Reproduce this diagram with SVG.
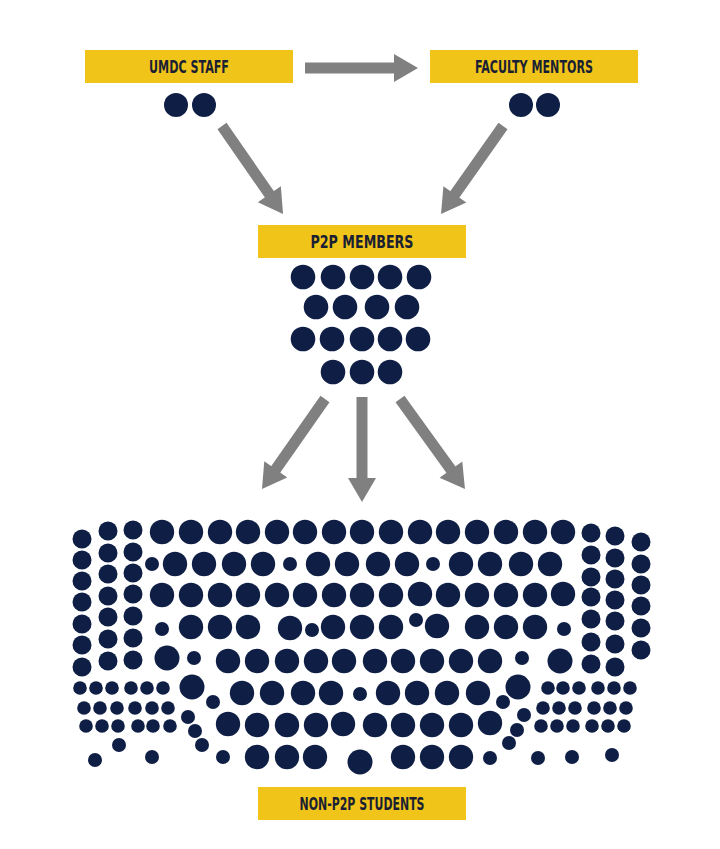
<svg xmlns="http://www.w3.org/2000/svg" width="720" height="849" viewBox="0 0 720 849">
<style>
.box{fill:#f0c419}
.lbl{font-family:"Liberation Sans Narrow","DejaVu Sans Condensed","Liberation Sans",sans-serif;font-weight:700;font-size:17px;fill:#1b1f33;text-anchor:middle}
.d{fill:#0e1e44}
.arr{stroke:#808080;stroke-width:11;fill:none;marker-end:url(#head)}
</style>
<defs>
<marker id="head" markerUnits="userSpaceOnUse" markerWidth="30" markerHeight="30" refX="2" refY="14" orient="auto" overflow="visible">
<path d="M0,0 L24,14 L0,28 z" fill="#808080"/>
</marker>
</defs>
<rect width="720" height="849" fill="#ffffff"/>

<g id="connectors">
<line class="arr" x1="305" y1="68" x2="396" y2="68"/>
<line class="arr" x1="222" y1="126" x2="270.5" y2="195.9"/>
<line class="arr" x1="503" y1="126" x2="453.7" y2="196"/>
<line class="arr" x1="325" y1="399" x2="274.6" y2="471"/>
<line class="arr" x1="362" y1="397" x2="362" y2="480"/>
<line class="arr" x1="400" y1="399" x2="452.1" y2="471.2"/>
</g>

<g id="node-umdc-staff">
<rect class="box" x="85" y="50" width="208" height="33"/>
<text class="lbl" x="189" y="72.5" textLength="80" lengthAdjust="spacingAndGlyphs">UMDC STAFF</text>
<circle class="d" cx="176" cy="105" r="12"/>
<circle class="d" cx="204" cy="105" r="12"/>
</g>

<g id="node-faculty-mentors">
<rect class="box" x="430" y="50" width="208" height="33"/>
<text class="lbl" x="534" y="72.5" textLength="118" lengthAdjust="spacingAndGlyphs">FACULTY MENTORS</text>
<circle class="d" cx="521" cy="105" r="12"/>
<circle class="d" cx="548" cy="105" r="12"/>
</g>

<g id="node-p2p-members">
<rect class="box" x="258" y="225" width="208" height="33"/>
<text class="lbl" x="362" y="247.5" textLength="103" lengthAdjust="spacingAndGlyphs">P2P MEMBERS</text>
<circle class="d" cx="303" cy="277" r="12.3"/>
<circle class="d" cx="333" cy="277" r="12.3"/>
<circle class="d" cx="362" cy="277" r="12.3"/>
<circle class="d" cx="390" cy="277" r="12.3"/>
<circle class="d" cx="419" cy="277" r="12.3"/>
<circle class="d" cx="316" cy="307" r="12.3"/>
<circle class="d" cx="345" cy="307" r="12.3"/>
<circle class="d" cx="377" cy="307" r="12.3"/>
<circle class="d" cx="407" cy="307" r="12.3"/>
<circle class="d" cx="303" cy="339" r="12.3"/>
<circle class="d" cx="332" cy="339" r="12.3"/>
<circle class="d" cx="362" cy="339" r="12.3"/>
<circle class="d" cx="390" cy="339" r="12.3"/>
<circle class="d" cx="418" cy="339" r="12.3"/>
<circle class="d" cx="333" cy="372" r="12.3"/>
<circle class="d" cx="362" cy="372" r="12.3"/>
<circle class="d" cx="390" cy="372" r="12.3"/>
</g>

<g id="node-non-p2p-students">
<rect class="box" x="258" y="787" width="208" height="33"/>
<text class="lbl" x="362" y="809.5" textLength="125" lengthAdjust="spacingAndGlyphs">NON-P2P STUDENTS</text>
<g id="left-columns">
<circle class="d" cx="82" cy="539" r="9.5"/><circle class="d" cx="82" cy="560" r="9.5"/><circle class="d" cx="82" cy="581" r="9.5"/><circle class="d" cx="82" cy="602" r="9.5"/><circle class="d" cx="82" cy="624" r="9.5"/><circle class="d" cx="82" cy="645" r="9.5"/><circle class="d" cx="82" cy="667" r="9.5"/>
<circle class="d" cx="108" cy="531" r="9.5"/><circle class="d" cx="108" cy="553" r="9.5"/><circle class="d" cx="108" cy="574" r="9.5"/><circle class="d" cx="108" cy="596" r="9.5"/><circle class="d" cx="108" cy="617" r="9.5"/><circle class="d" cx="108" cy="639" r="9.5"/><circle class="d" cx="108" cy="661" r="9.5"/>
<circle class="d" cx="133" cy="530" r="9.5"/><circle class="d" cx="133" cy="552" r="9.5"/><circle class="d" cx="133" cy="573" r="9.5"/><circle class="d" cx="133" cy="594" r="9.5"/><circle class="d" cx="133" cy="616" r="9.5"/><circle class="d" cx="133" cy="638" r="9.5"/><circle class="d" cx="133" cy="660" r="9.5"/>
</g>
<g id="right-columns">
<circle class="d" cx="591" cy="533" r="9.5"/><circle class="d" cx="591" cy="555" r="9.5"/><circle class="d" cx="591" cy="577" r="9.5"/><circle class="d" cx="591" cy="597" r="9.5"/><circle class="d" cx="591" cy="619" r="9.5"/><circle class="d" cx="591" cy="642" r="9.5"/><circle class="d" cx="591" cy="664" r="9.5"/>
<circle class="d" cx="615" cy="536" r="9.5"/><circle class="d" cx="615" cy="558" r="9.5"/><circle class="d" cx="615" cy="579" r="9.5"/><circle class="d" cx="615" cy="600" r="9.5"/><circle class="d" cx="615" cy="621" r="9.5"/><circle class="d" cx="615" cy="644" r="9.5"/><circle class="d" cx="615" cy="667" r="9.5"/>
<circle class="d" cx="641" cy="542" r="9.5"/><circle class="d" cx="641" cy="564" r="9.5"/><circle class="d" cx="641" cy="585" r="9.5"/><circle class="d" cx="641" cy="606" r="9.5"/><circle class="d" cx="641" cy="628" r="9.5"/><circle class="d" cx="641" cy="650" r="9.5"/>
</g>
<g id="row1">
<circle class="d" cx="162" cy="532" r="12.2"/><circle class="d" cx="191" cy="532" r="12.2"/><circle class="d" cx="220" cy="532" r="12.2"/><circle class="d" cx="248" cy="532" r="12.2"/><circle class="d" cx="277" cy="532" r="12.2"/><circle class="d" cx="305" cy="532" r="12.2"/><circle class="d" cx="334" cy="532" r="12.2"/><circle class="d" cx="362" cy="532" r="12.2"/><circle class="d" cx="391" cy="532" r="12.2"/><circle class="d" cx="420" cy="532" r="12.2"/><circle class="d" cx="448" cy="532" r="12.2"/><circle class="d" cx="477" cy="532" r="12.2"/><circle class="d" cx="506" cy="532" r="12.2"/><circle class="d" cx="535" cy="532" r="12.2"/><circle class="d" cx="563" cy="532" r="12.2"/>
</g>
<g id="row2">
<circle class="d" cx="152" cy="564" r="7"/><circle class="d" cx="175" cy="564" r="12.2"/><circle class="d" cx="204" cy="564" r="12.2"/><circle class="d" cx="234" cy="564" r="12.2"/><circle class="d" cx="263" cy="564" r="12.2"/><circle class="d" cx="290" cy="564" r="7"/><circle class="d" cx="318" cy="564" r="12.2"/><circle class="d" cx="347" cy="564" r="12.2"/><circle class="d" cx="378" cy="564" r="12.2"/><circle class="d" cx="407" cy="564" r="12.2"/><circle class="d" cx="433" cy="564" r="7"/><circle class="d" cx="461" cy="564" r="12.2"/><circle class="d" cx="490" cy="564" r="12.2"/><circle class="d" cx="521" cy="564" r="12.2"/><circle class="d" cx="550" cy="564" r="12.2"/>
</g>
<g id="row3">
<circle class="d" cx="162" cy="595" r="12.2"/><circle class="d" cx="191" cy="595" r="12.2"/><circle class="d" cx="220" cy="595" r="12.2"/><circle class="d" cx="248" cy="595" r="12.2"/><circle class="d" cx="277" cy="595" r="12.2"/><circle class="d" cx="305" cy="595" r="12.2"/><circle class="d" cx="334" cy="595" r="12.2"/><circle class="d" cx="362" cy="595" r="12.2"/><circle class="d" cx="391" cy="595" r="12.2"/><circle class="d" cx="420" cy="594" r="12.2"/><circle class="d" cx="448" cy="595" r="12.2"/><circle class="d" cx="477" cy="595" r="12.2"/><circle class="d" cx="506" cy="595" r="12.2"/><circle class="d" cx="535" cy="595" r="12.2"/><circle class="d" cx="563" cy="594" r="12.2"/>
</g>
<g id="row4">
<circle class="d" cx="162" cy="629" r="7"/><circle class="d" cx="191" cy="627" r="12.2"/><circle class="d" cx="220" cy="627" r="12.2"/><circle class="d" cx="248" cy="627" r="12.2"/><circle class="d" cx="290" cy="628" r="12.2"/><circle class="d" cx="312" cy="630" r="7"/><circle class="d" cx="333" cy="627" r="12.2"/><circle class="d" cx="362" cy="627" r="12.2"/><circle class="d" cx="391" cy="627" r="12.2"/><circle class="d" cx="416" cy="620" r="7"/><circle class="d" cx="437" cy="626" r="12.2"/><circle class="d" cx="477" cy="627" r="12.2"/><circle class="d" cx="506" cy="627" r="12.2"/><circle class="d" cx="535" cy="627" r="12.2"/><circle class="d" cx="564" cy="629" r="7"/>
</g>
<g id="row5">
<circle class="d" cx="167" cy="658" r="12.5"/><circle class="d" cx="194" cy="658" r="7"/><circle class="d" cx="228" cy="661" r="12.2"/><circle class="d" cx="257" cy="661" r="12.2"/><circle class="d" cx="287" cy="661" r="12.2"/><circle class="d" cx="316" cy="661" r="12.2"/><circle class="d" cx="344" cy="661" r="12.2"/><circle class="d" cx="375" cy="661" r="12.2"/><circle class="d" cx="403" cy="661" r="12.2"/><circle class="d" cx="432" cy="661" r="12.2"/><circle class="d" cx="461" cy="661" r="12.2"/><circle class="d" cx="490" cy="661" r="12.2"/><circle class="d" cx="522" cy="658" r="7"/><circle class="d" cx="560" cy="661" r="12.5"/>
</g>
<g id="row6">
<circle class="d" cx="192" cy="687" r="12.5"/><circle class="d" cx="213" cy="702" r="7"/><circle class="d" cx="242" cy="693" r="12.2"/><circle class="d" cx="272" cy="693" r="12.2"/><circle class="d" cx="303" cy="693" r="12.2"/><circle class="d" cx="331" cy="693" r="12.2"/><circle class="d" cx="360" cy="694" r="7"/><circle class="d" cx="388" cy="693" r="12.2"/><circle class="d" cx="417" cy="693" r="12.2"/><circle class="d" cx="447" cy="693" r="12.2"/><circle class="d" cx="478" cy="693" r="12.2"/><circle class="d" cx="503" cy="702" r="7"/><circle class="d" cx="518" cy="687" r="12.5"/>
</g>
<g id="row7">
<circle class="d" cx="188" cy="717" r="7"/><circle class="d" cx="195" cy="731" r="7"/><circle class="d" cx="202" cy="745" r="7"/>
<circle class="d" cx="228" cy="724" r="12.2"/><circle class="d" cx="257" cy="725" r="12.2"/><circle class="d" cx="287" cy="725" r="12.2"/><circle class="d" cx="316" cy="725" r="12.2"/><circle class="d" cx="343" cy="724" r="12.2"/><circle class="d" cx="375" cy="725" r="12.2"/><circle class="d" cx="403" cy="725" r="12.2"/><circle class="d" cx="432" cy="725" r="12.2"/><circle class="d" cx="461" cy="725" r="12.2"/><circle class="d" cx="490" cy="723" r="12.2"/>
<circle class="d" cx="524" cy="715" r="7"/><circle class="d" cx="517" cy="730" r="7"/><circle class="d" cx="509" cy="743" r="7"/>
</g>
<g id="row8">
<circle class="d" cx="95" cy="760" r="7"/><circle class="d" cx="119" cy="745" r="7"/><circle class="d" cx="152" cy="757" r="7"/><circle class="d" cx="223" cy="757" r="7"/>
<circle class="d" cx="257" cy="757" r="12.2"/><circle class="d" cx="287" cy="757" r="12.2"/><circle class="d" cx="315" cy="757" r="12.2"/><circle class="d" cx="360" cy="762" r="12.5"/><circle class="d" cx="403" cy="757" r="12.2"/><circle class="d" cx="432" cy="757" r="12.2"/><circle class="d" cx="461" cy="757" r="12.2"/>
<circle class="d" cx="490" cy="758" r="7"/><circle class="d" cx="538" cy="758" r="7"/><circle class="d" cx="572" cy="757" r="7"/><circle class="d" cx="612" cy="755" r="7"/>
</g>
<g id="small-grids">
<circle class="d" cx="80" cy="688" r="6.8"/><circle class="d" cx="96" cy="688" r="6.8"/><circle class="d" cx="112" cy="688" r="6.8"/><circle class="d" cx="131" cy="688" r="6.8"/><circle class="d" cx="147" cy="688" r="6.8"/><circle class="d" cx="163" cy="688" r="6.8"/>
<circle class="d" cx="84" cy="708" r="6.8"/><circle class="d" cx="100" cy="708" r="6.8"/><circle class="d" cx="117" cy="708" r="6.8"/><circle class="d" cx="135" cy="708" r="6.8"/><circle class="d" cx="152" cy="708" r="6.8"/><circle class="d" cx="168" cy="708" r="6.8"/>
<circle class="d" cx="86" cy="726" r="6.8"/><circle class="d" cx="102" cy="726" r="6.8"/><circle class="d" cx="118" cy="726" r="6.8"/><circle class="d" cx="138" cy="726" r="6.8"/><circle class="d" cx="153" cy="726" r="6.8"/><circle class="d" cx="170" cy="726" r="6.8"/>
<circle class="d" cx="548" cy="688" r="6.8"/><circle class="d" cx="563" cy="688" r="6.8"/><circle class="d" cx="579" cy="688" r="6.8"/><circle class="d" cx="598" cy="688" r="6.8"/><circle class="d" cx="614" cy="688" r="6.8"/><circle class="d" cx="630" cy="688" r="6.8"/>
<circle class="d" cx="543" cy="708" r="6.8"/><circle class="d" cx="559" cy="708" r="6.8"/><circle class="d" cx="575" cy="708" r="6.8"/><circle class="d" cx="594" cy="708" r="6.8"/><circle class="d" cx="610" cy="708" r="6.8"/><circle class="d" cx="626" cy="708" r="6.8"/>
<circle class="d" cx="541" cy="726" r="6.8"/><circle class="d" cx="557" cy="726" r="6.8"/><circle class="d" cx="573" cy="726" r="6.8"/><circle class="d" cx="592" cy="726" r="6.8"/><circle class="d" cx="608" cy="726" r="6.8"/><circle class="d" cx="624" cy="726" r="6.8"/>
</g>
</g>
</svg>
